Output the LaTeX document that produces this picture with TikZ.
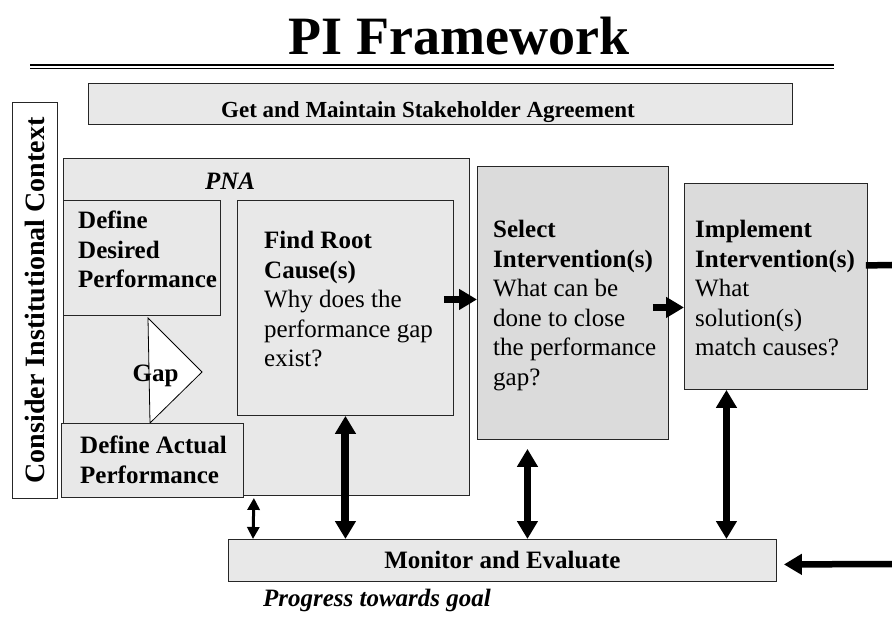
\documentclass[tikz,border=0pt]{standalone}
\usepackage{fontspec}
\setmainfont{Liberation Serif}
\usetikzlibrary{arrows.meta,positioning}
\definecolor{boxfill}{gray}{0.91}
\definecolor{stepfill}{gray}{0.86}

\newcommand{\txtsize}{\fontsize{25}{29.5}\selectfont}

\begin{document}
\begin{tikzpicture}[x=1pt,y=-1pt,
  box/.style={draw=black!85, line width=0.9pt, fill=#1, inner sep=0pt, anchor=north west},
  box/.default=boxfill,
  txt/.style={inner sep=0pt, align=left, font=\txtsize},
  fat/.style={line width=6.5pt, -{Triangle[width=20pt,length=18pt]}},
  fatboth/.style={line width=6.5pt, {Triangle[width=20pt,length=18pt]}-{Triangle[width=20pt,length=18pt]}},
  thinboth/.style={line width=3pt, {Triangle[width=12pt,length=12pt]}-{Triangle[width=12pt,length=12pt]}}]
%\draw[help lines,step=50] (0,0) grid (892,617);
\useasboundingbox (0,0) rectangle (892,617);

% title and double rule
\node[font=\fontsize{54}{60}\selectfont\bfseries, anchor=base] (title) at (459,55) {PI Framework};
\draw[line width=2.6pt] (30,65.2) -- (834,65.2);
\draw[line width=1.6pt] (30,68.6) -- (834,68.6);

\node[box, minimum width=704pt, minimum height=41pt] (agree) at (88,83) {};
\node[font=\fontsize{23}{27}\selectfont\bfseries, anchor=base] (agreetxt)
  at ([shift={(-12.5pt,7pt)}]agree.south) {Get and Maintain Stakeholder Agreement};

\node[box=white, minimum width=45pt, minimum height=396pt] (context) at (12,102) {};
\node[font=\fontsize{28}{32}\selectfont\bfseries, rotate=90] (contexttxt)
  at (context.center) {Consider Institutional Context};

% performance needs analysis
\node[box, minimum width=406pt, minimum height=337pt] (pna) at (63,158) {};
\node[txt, font=\txtsize\bfseries\itshape] (pnatxt) at (230,181) {PNA};

\node[box, minimum width=157pt, minimum height=115pt] (desired) at (63,200) {};
\node[txt, font=\txtsize\bfseries, below right=11pt and 15pt of desired.north west]
  (desiredtxt) {Define\\Desired\\Performance};

\node[box, minimum width=216pt, minimum height=215pt] (root) at (237,200) {};
\node[txt, below right=31pt and 27pt of root.north west] (roottxt)
  {\textbf{Find Root}\\\textbf{Cause(s)}\\Why does the\\performance gap\\exist?};

\draw[fill=white, line width=0.8pt] (148,318) -- (202,372) -- (150,423) -- cycle;
\node[font=\txtsize\bfseries, anchor=base] (gaptxt) at (155.5,382) {Gap};

\node[box, minimum width=182pt, minimum height=74pt] (actual) at (61,423) {};
\node[txt, font=\txtsize\bfseries, below right=13pt and 19pt of actual.north west]
  (actualtxt) {Define Actual\\Performance};

% later steps
\node[box=stepfill, minimum width=191pt, minimum height=273pt] (select) at (477,166) {};
\node[txt, below right=54pt and 16pt of select.north west] (selecttxt)
  {\textbf{Select}\\\textbf{Intervention(s)}\\What can be\\done to close\\the performance\\gap?};

\node[box=stepfill, minimum width=183pt, minimum height=206pt] (implement) at (684,183) {};
\node[txt, below right=37pt and 11pt of implement.north west] (implementtxt)
  {\textbf{Implement}\\\textbf{Intervention(s)}\\What\\solution(s)\\match causes?};

\node[box, minimum width=548pt, minimum height=42pt, font=\txtsize\bfseries] (monitor)
  at (228,539) {Monitor and Evaluate};
\node[font=\txtsize\bfseries\itshape, anchor=base] (progress) at (377,606) {Progress towards goal};

% arrows
\draw[fat] ([xshift=-10pt,yshift=8.5pt]root.east) -- ([yshift=3.5pt]select.west);
\draw[fat] ([xshift=-16pt,yshift=-4.5pt]select.east) -- ([yshift=-21pt]implement.west);

\coordinate (loopout) at (892,265);
\coordinate (loopin) at (892,564);
\draw[line width=6.5pt] ([xshift=-2pt,yshift=21pt]implement.east) -- (loopout);
\draw[fat] (loopin) -- ([xshift=7pt,yshift=-4pt]monitor.east);

\draw[thinboth] ([xshift=10pt]actual.south east) -- ([xshift=25pt]monitor.north west);
\draw[fatboth, line width=8pt] (root.south) -- (root.south |- monitor.north);
\coordinate (selectfoot) at ([xshift=-45.5pt,yshift=-9pt]select.south);
\draw[fatboth] (selectfoot) -- (selectfoot |- monitor.north);
\coordinate (implementfoot) at ([xshift=-49.5pt]implement.south);
\draw[fatboth] (implementfoot) -- (implementfoot |- monitor.north);
\end{tikzpicture}
\end{document}
